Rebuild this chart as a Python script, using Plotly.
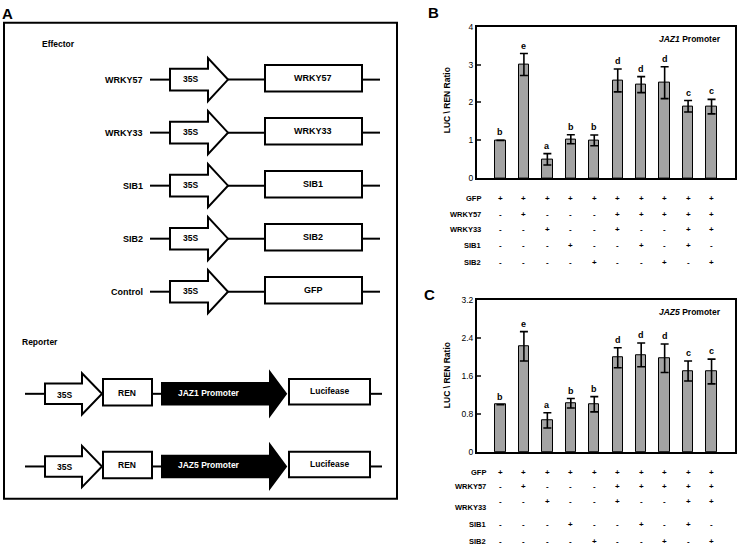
import plotly.graph_objects as go

W, H = 738, 551

# ---------------- data ----------------
conditions = list(range(10))
jaz1_values = [1.0, 3.0, 0.50, 1.03, 1.0, 2.58, 2.47, 2.52, 1.90, 1.89]
jaz1_errors = [0.0, 0.29, 0.15, 0.12, 0.14, 0.30, 0.21, 0.42, 0.15, 0.19]
jaz1_letters = ["b", "e", "a", "b", "b", "d", "d", "d", "c", "c"]

jaz5_values = [1.0, 2.23, 0.67, 1.03, 1.01, 1.99, 2.05, 1.98, 1.71, 1.70]
jaz5_errors = [0.0, 0.31, 0.16, 0.10, 0.16, 0.21, 0.25, 0.30, 0.21, 0.26]
jaz5_letters = ["b", "e", "a", "b", "b", "d", "d", "d", "c", "c"]

table_rows = ["GFP", "WRKY57", "WRKY33", "SIB1", "SIB2"]
table_signs = [
    ["+", "+", "+", "+", "+", "+", "+", "+", "+", "+"],
    ["-", "+", "-", "-", "-", "+", "+", "+", "+", "+"],
    ["-", "-", "+", "-", "-", "+", "-", "-", "+", "+"],
    ["-", "-", "-", "+", "-", "-", "+", "-", "+", "-"],
    ["-", "-", "-", "-", "+", "-", "-", "+", "-", "+"],
]

effector_labels = ["WRKY57", "WRKY33", "SIB1", "SIB2", "Control"]
effector_genes = ["WRKY57", "WRKY33", "SIB1", "SIB2", "GFP"]
reporter_promoters = ["JAZ1 Promoter", "JAZ5 Promoter"]

# ---------------- helpers ----------------
def px(x):
    return x / W


def py(y):
    return 1 - y / H


FONT = "Liberation Sans"
shapes = []
annotations = []


def line(x0, y0, x1, y1, w=2):
    shapes.append(dict(type="line", xref="paper", yref="paper",
                       x0=px(x0), y0=py(y0), x1=px(x1), y1=py(y1),
                       line=dict(color="black", width=w)))


def rect(x0, y0, x1, y1, fill="white", w=2):
    shapes.append(dict(type="rect", xref="paper", yref="paper",
                       x0=px(x0), y0=py(y0), x1=px(x1), y1=py(y1),
                       fillcolor=fill, line=dict(color="black", width=w)))


def poly(pts, fill="white", w=2):
    d = "M " + " L ".join(f"{px(x):.5f},{py(y):.5f}" for x, y in pts) + " Z"
    shapes.append(dict(type="path", xref="paper", yref="paper", path=d,
                       fillcolor=fill, line=dict(color="black", width=w)))


def arrow(x0, xb, xt, yc, hb, hh, fill="white"):
    poly([(x0, yc - hb), (xb, yc - hb), (xb, yc - hh), (xt, yc),
          (xb, yc + hh), (xb, yc + hb), (x0, yc + hb)], fill=fill)


def text(x, y, s, size=9, anchor="center", color="black", bold=True, angle=0):
    annotations.append(dict(xref="paper", yref="paper", x=px(x), y=py(y),
                            text=f"<b>{s}</b>" if bold else s, showarrow=False,
                            xanchor=anchor, yanchor="middle", textangle=angle,
                            font=dict(family=FONT, size=size, color=color)))


# ---------------- panel A ----------------
rect(4, 18, 397, 503, fill="rgba(0,0,0,0)", w=2)
text(7, 9, "A", size=15)
text(40, 40, "Effector", size=8.5, anchor="left")

for i, (lab, gene) in enumerate(zip(effector_labels, effector_genes)):
    yc = 76 + i * 54
    text(145, yc, lab, size=9, anchor="right")
    line(150, yc, 170, yc)
    line(228, yc, 265, yc)
    line(362, yc, 380, yc)
    arrow(170, 208, 228, yc, 11, 22)
    text(190, yc - 1, "35S", size=8.5)
    rect(265, yc - 15, 362, yc + 12)
    text(313, yc - 2, gene, size=9)

text(20, 343, "Reporter", size=8.5, anchor="left")
for i, prom in enumerate(reporter_promoters):
    yc = 396 + i * 74
    line(25, yc, 45, yc)
    line(152, yc, 162, yc)
    line(370, yc, 382, yc)
    arrow(45, 82, 102, yc, 10.5, 21)
    text(64, yc + 1, "35S", size=8.5)
    rect(103, yc - 15, 152, yc + 12)
    text(127, yc - 1, "REN", size=8.5)
    arrow(162, 270, 286, yc, 11, 22, fill="black")
    text(209, yc - 1, prom, size=8.5, color="white")
    rect(289, yc - 15, 370, yc + 11)
    text(329, yc - 3, "Lucifease", size=8.5)

# ---------------- panels B & C ----------------
fig = go.Figure()

bar_style = dict(marker=dict(color="#a3a3a3", line=dict(color="black", width=1)),
                 width=0.44, showlegend=False)

fig.add_trace(go.Bar(x=conditions, y=jaz1_values,
                     error_y=dict(type="data", array=jaz1_errors, color="black",
                                  thickness=1.6, width=4),
                     xaxis="x", yaxis="y", **bar_style))
fig.add_trace(go.Bar(x=conditions, y=jaz5_values,
                     error_y=dict(type="data", array=jaz5_errors, color="black",
                                  thickness=1.6, width=4),
                     xaxis="x2", yaxis="y2", **bar_style))

for xr, yr, vals, errs, lets in [("x", "y", jaz1_values, jaz1_errors, jaz1_letters),
                                  ("x2", "y2", jaz5_values, jaz5_errors, jaz5_letters)]:
    for i, (v, e, l) in enumerate(zip(vals, errs, lets)):
        annotations.append(dict(xref=xr, yref=yr, x=i, y=v + e, text=f"<b>{l}</b>",
                                showarrow=False, yanchor="bottom", yshift=1,
                                font=dict(family=FONT, size=9, color="black")))

# promoter labels
annotations.append(dict(xref="paper", yref="paper", x=px(723), y=py(35),
                        text="<b><i>JAZ1</i> Promoter</b>", showarrow=False,
                        xanchor="right", yanchor="middle",
                        font=dict(family=FONT, size=8.5)))
annotations.append(dict(xref="paper", yref="paper", x=px(723), y=py(313),
                        text="<b><i>JAZ5</i> Promoter</b>", showarrow=False,
                        xanchor="right", yanchor="middle",
                        font=dict(family=FONT, size=8.5)))

text(447, 97, "LUC \\ REN Ratio", size=8.5, angle=-90)
text(447, 377, "LUC \\ REN Ratio", size=8.5, angle=-90)
text(433, 8, "B", size=15)
text(430, 295, "C", size=15)

# tables
for xr, row_ys, lab_ys, lab_x in [("x", [197, 213, 229, 245, 262], [197, 213, 229, 245, 262], 483),
                                   ("x2", [476, 490, 506, 529, 546], [476, 490, 512, 529, 546], 488)]:
    for r, name in enumerate(table_rows):
        text(lab_x, lab_ys[r], name, size=7.5, anchor="right")
        for i, s in enumerate(table_signs[r]):
            annotations.append(dict(xref=xr, yref="paper", x=i, y=py(row_ys[r]),
                                    text=f"<b>{s}</b>", showarrow=False,
                                    yanchor="middle",
                                    font=dict(family=FONT, size=8, color="black")))

axis_common = dict(showline=True, linecolor="black", linewidth=2, mirror=True,
                   showgrid=False, zeroline=False)

fig.update_layout(
    width=W, height=H,
    margin=dict(l=0, r=0, t=0, b=0),
    paper_bgcolor="white", plot_bgcolor="white",
    bargap=0,
    xaxis=dict(domain=[px(477), px(735)], range=[-1, 10], showticklabels=False,
               ticks="", anchor="y", **axis_common),
    yaxis=dict(domain=[py(176.5), py(22)], range=[0, 4], tickvals=[0, 1, 2, 3, 4],
               ticks="inside", ticklen=4, tickwidth=1.5, anchor="x",
               tickfont=dict(family=FONT, size=8.5, color="black"), **axis_common),
    xaxis2=dict(domain=[px(477), px(735)], range=[-1, 10], showticklabels=False,
                ticks="", anchor="y2", **axis_common),
    yaxis2=dict(domain=[py(455.5), py(300.7)], range=[0, 3.2],
                tickvals=[0, 0.8, 1.6, 2.4, 3.2], ticktext=["0", "0.8", "1.6", "2.4", "3.2"],
                ticks="inside", ticklen=4, tickwidth=1.5, anchor="x2",
                tickfont=dict(family=FONT, size=8.5, color="black"), **axis_common),
    shapes=shapes,
    annotations=annotations,
    font=dict(family=FONT, color="black"),
)

fig.update_yaxes(tickprefix="<b>", ticksuffix="</b>")

fig.write_html("out.html",
               config={"displayModeBar": False},
               post_script="document.body.style.margin='0';document.body.style.overflow='hidden';")
